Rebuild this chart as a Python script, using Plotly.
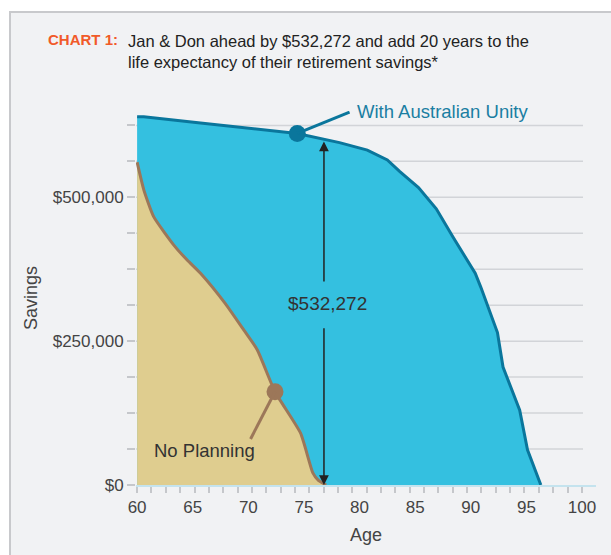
import plotly.graph_objects as go

# ---- data (values in dollars, ages in years) ----
unity_age = [60, 60.6, 65.7, 74.4, 78.2, 80.7, 82.5, 83.6, 85.3, 86.9, 88.4, 90.4, 90.9, 92.4, 92.9, 94.4, 95.1, 96.3]
unity_val = [640000, 640000, 629000, 611000, 595000, 582000, 565000, 545000, 517000, 480000,
             431000, 368000, 344000, 265000, 205000, 130000, 61000, 0]

noplan_age = [60, 60.6, 61.5, 63.3, 64.5, 65.7, 67.9, 69.6, 70.8, 72.4, 74.7, 75.8, 76.3, 77.0]
noplan_val = [561000, 513000, 466000, 417000, 391000, 368000, 316000, 269000, 235000, 162000,
              90000, 21000, 8000, 0]

unity_dot = (74.4, 611000)
noplan_dot = (72.4, 162000)
gap_age = 76.8
gap_top = 597000
gap_label = "$532,272"

x_ticks = [60, 65, 70, 75, 80, 85, 90, 95, 100]
y_ticks = [i * 62500 for i in range(11)]
y_labels = {0: "$0", 250000: "$250,000", 500000: "$500,000"}

BLUE_FILL = "#34c0e0"
BLUE_LINE = "#0a769c"
BEIGE_FILL = "#dfcd8f"
BROWN = "#9c7759"
BG = "#f1f2f4"
GRID = "#d2d4d8"
FONT = "Liberation Sans, Arial, sans-serif"

# layout geometry
L, R, T, B = 136, 15, 111, 70
W, H = 611, 555
PW, PH = W - L - R, H - T - B


def px(xp):
    return (xp - L) / PW


def py(yp):
    return (H - B - yp) / PH


fig = go.Figure()

fig.add_trace(go.Scatter(x=unity_age, y=unity_val, mode="lines", fill="tozeroy",
                         fillcolor=BLUE_FILL, line=dict(color=BLUE_LINE, width=3),
                         hoverinfo="skip", showlegend=False))
fig.add_trace(go.Scatter(x=noplan_age, y=noplan_val, mode="lines", fill="tozeroy",
                         fillcolor=BEIGE_FILL, line=dict(color=BROWN, width=3, shape="spline", smoothing=0.5),
                         hoverinfo="skip", showlegend=False))

shapes = []
# background box
shapes.append(dict(type="rect", xref="paper", yref="paper", x0=px(10), x1=px(640), y0=py(600), y1=py(12),
                   fillcolor=BG, line=dict(color="#c8c9cc", width=2), layer="below"))
# gridlines
for v in y_ticks[1:]:
    shapes.append(dict(type="line", xref="paper", yref="y", x0=0, x1=px(583), y0=v, y1=v,
                       line=dict(color=GRID, width=1.5), layer="below"))
# leader lines
shapes.append(dict(type="line", xref="x", yref="y", x0=unity_dot[0], y0=unity_dot[1], x1=79.1, y1=648000,
                   line=dict(color=BLUE_LINE, width=3)))
shapes.append(dict(type="line", xref="x", yref="y", x0=noplan_dot[0], y0=noplan_dot[1], x1=70.2, y1=80000,
                   line=dict(color=BROWN, width=3)))
fig.update_layout(shapes=shapes)

fig.add_trace(go.Scatter(x=[unity_dot[0]], y=[unity_dot[1]], mode="markers",
                         marker=dict(size=17, color=BLUE_LINE), hoverinfo="skip", showlegend=False))
fig.add_trace(go.Scatter(x=[noplan_dot[0]], y=[noplan_dot[1]], mode="markers",
                         marker=dict(size=17, color=BROWN), hoverinfo="skip", showlegend=False))

ann = []
# double arrow with gap for label
ann.append(dict(x=gap_age, y=gap_top, ax=gap_age, ay=351000, xref="x", yref="y", axref="x", ayref="y",
                text="", showarrow=True, arrowhead=2, arrowsize=1.3, arrowwidth=1.5, arrowcolor="#222"))
ann.append(dict(x=gap_age, y=0, ax=gap_age, ay=275000, xref="x", yref="y", axref="x", ayref="y",
                text="", showarrow=True, arrowhead=2, arrowsize=1.3, arrowwidth=1.5, arrowcolor="#222"))
ann.append(dict(x=77.1, y=316000, xref="x", yref="y", text=gap_label, showarrow=False,
                font=dict(family=FONT, size=19, color="#333")))
ann.append(dict(x=79.6, y=649000, xref="x", yref="y", text="With Australian Unity", showarrow=False,
                xanchor="left", yanchor="middle", font=dict(family=FONT, size=18.5, color="#1a7ea2")))
ann.append(dict(x=px(152), y=py(450), xref="paper", yref="paper", text="No Planning", showarrow=False,
                xanchor="left", yanchor="middle", font=dict(family=FONT, size=18.5, color="#333")))
# title
ann.append(dict(x=px(46), y=py(40), xref="paper", yref="paper", text="<b>CHART 1:</b>", showarrow=False,
                xanchor="left", yanchor="middle", font=dict(family=FONT, size=15, color="#f15a29")))
ann.append(dict(x=px(126), y=py(51), xref="paper", yref="paper",
                text="Jan &amp; Don ahead by $532,272 and add 20 years to the<br>life expectancy of their retirement savings*",
                showarrow=False, xanchor="left", yanchor="middle", align="left",
                font=dict(family=FONT, size=16.5, color="#222")))
fig.update_layout(annotations=ann)

fig.update_layout(
    width=W, height=H, margin=dict(l=L, r=R, t=T, b=B),
    paper_bgcolor="white", plot_bgcolor="rgba(0,0,0,0)",
    xaxis=dict(range=[59.9, 101.26], tickvals=x_ticks, ticks="", showgrid=False, zeroline=False,
               showline=True, linecolor="#c4e3ee", linewidth=2, ticklabelstandoff=6,
               tickfont=dict(family=FONT, size=17, color="#444"),
               minor=dict(tick0=60, dtick=1.29, ticks="outside", ticklen=6, tickcolor="#c5c7cb", tickwidth=1.5),
               title=dict(text="Age", font=dict(family=FONT, size=18, color="#444"), standoff=12)),
    yaxis=dict(range=[0, 650000], tickvals=y_ticks, ticktext=[y_labels.get(v, "") for v in y_ticks],
               ticks="outside", ticklen=8, tickcolor="#c5c7cb", tickwidth=1.5, showgrid=False,
               zeroline=False, showline=False,
               tickfont=dict(family=FONT, size=17, color="#444"),
               title=dict(text="Savings", font=dict(family=FONT, size=18, color="#444"), standoff=10)),
)

fig.write_html("out.html", config={"displayModeBar": False},
               post_script="document.body.style.margin='0';document.body.style.overflow='hidden';")
